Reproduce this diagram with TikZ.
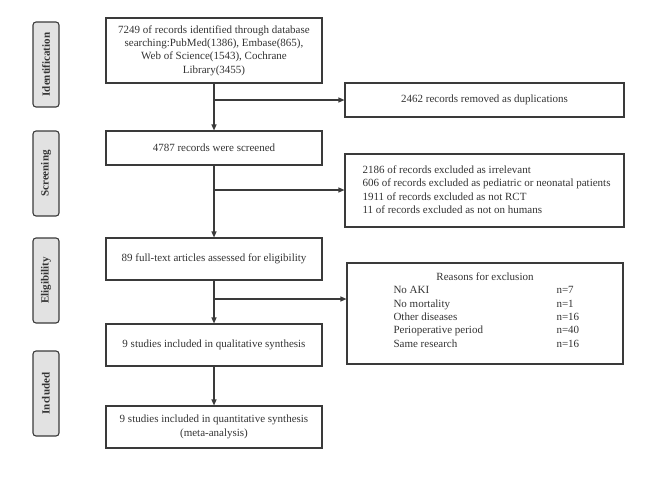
\documentclass[tikz,border=0pt]{standalone}
\usepackage{fontspec}
\setmainfont{Liberation Serif}
\usetikzlibrary{arrows.meta}
\definecolor{ln}{HTML}{3A3A3A}
\definecolor{tx}{HTML}{333333}
\definecolor{sidefill}{HTML}{E2E2E2}
\begin{document}
\begin{tikzpicture}[x=1pt,y=-1pt,
  font=\fontsize{11}{13.3}\selectfont, text=tx,
  mainbox/.style={draw=ln, line width=1.1pt, minimum width=216pt, align=center, inner sep=2pt},
  sidebox/.style={draw=ln, line width=1.1pt, fill=sidefill, rounded corners=3pt, minimum width=85pt, minimum height=26pt, rotate=90, font=\fontsize{11}{13.3}\selectfont\bfseries},
  rbox/.style={draw=ln, line width=1.1pt},
  arr/.style={draw=ln, line width=1.1pt, -{Triangle[length=6pt,width=5pt]}}]
\useasboundingbox (0,0) rectangle (649,479);
% side labels
\node[sidebox] (sid) at (46,64.5) {Identification};
\node[sidebox] (sscr) at (46,173.5) {Screening};
\node[sidebox] (selig) at (46,280.5) {Eligibility};
\node[sidebox] (sinc) at (46,393.5) {Included};
% main boxes
\node[mainbox, minimum height=65pt] (b1) at (214,50.5) {7249 of records identified through database\\searching:PubMed(1386), Embase(865),\\Web of Science(1543), Cochrane\\Library(3455)};
\node[mainbox, minimum height=34pt] (b2) at (214,148) {4787 records were screened};
\node[mainbox, minimum height=42pt] (b3) at (214,259) {89 full-text articles assessed for eligibility};
\node[mainbox, minimum height=42pt] (b4) at (214,345) {9 studies included in qualitative synthesis};
\node[mainbox, minimum height=42pt] (b5) at (214,427) {9 studies included in quantitative synthesis\\(meta-analysis)};
% right boxes
\node[rbox, minimum width=279pt, minimum height=34pt] (dup) at (484.5,100) {2462 records removed as duplications};
\node[rbox, minimum width=279pt, minimum height=73pt] (exc) at (484.5,190.5) {};
\node[anchor=base west] (e1) at (359,173.5) {2186 of records excluded as irrelevant};
\node[anchor=base west] (e2) at (359,186.8) {606 of records excluded as pediatric or neonatal patients};
\node[anchor=base west] (e3) at (359,200.1) {1911 of records excluded as not RCT};
\node[anchor=base west] (e4) at (359,213.4) {11 of records excluded as not on humans};
\node[rbox, minimum width=276pt, minimum height=101pt] (rea) at (485,313.5) {};
\node[anchor=base] (rt) at (485,280.5) {Reasons for exclusion};
\node[anchor=base west] (r1) at (390,293.8) {No AKI};
\node[anchor=base west] (r2) at (390,307.1) {No mortality};
\node[anchor=base west] (r3) at (390,320.4) {Other diseases};
\node[anchor=base west] (r4) at (390,333.7) {Perioperative period};
\node[anchor=base west] (r5) at (390,347.0) {Same research};
\node[anchor=base west] (n1) at (553,293.8) {n=7};
\node[anchor=base west] (n2) at (553,307.1) {n=1};
\node[anchor=base west] (n3) at (553,320.4) {n=16};
\node[anchor=base west] (n4) at (553,333.7) {n=40};
\node[anchor=base west] (n5) at (553,347.0) {n=16};
% connectors
\coordinate (j1) at (214,100);
\coordinate (j2) at (214,190);
\coordinate (j3) at (214,299);
\draw[arr] (b1) -- (b2);
\draw[arr] (j1) -- (dup.west);
\draw[arr] (b2) -- (b3);
\draw[arr] (j2) -- (j2 -| exc.west);
\draw[arr] (b3) -- (b4);
\draw[arr] (j3) -- (j3 -| rea.west);
\draw[arr] (b4) -- (b5);
\end{tikzpicture}
\end{document}
